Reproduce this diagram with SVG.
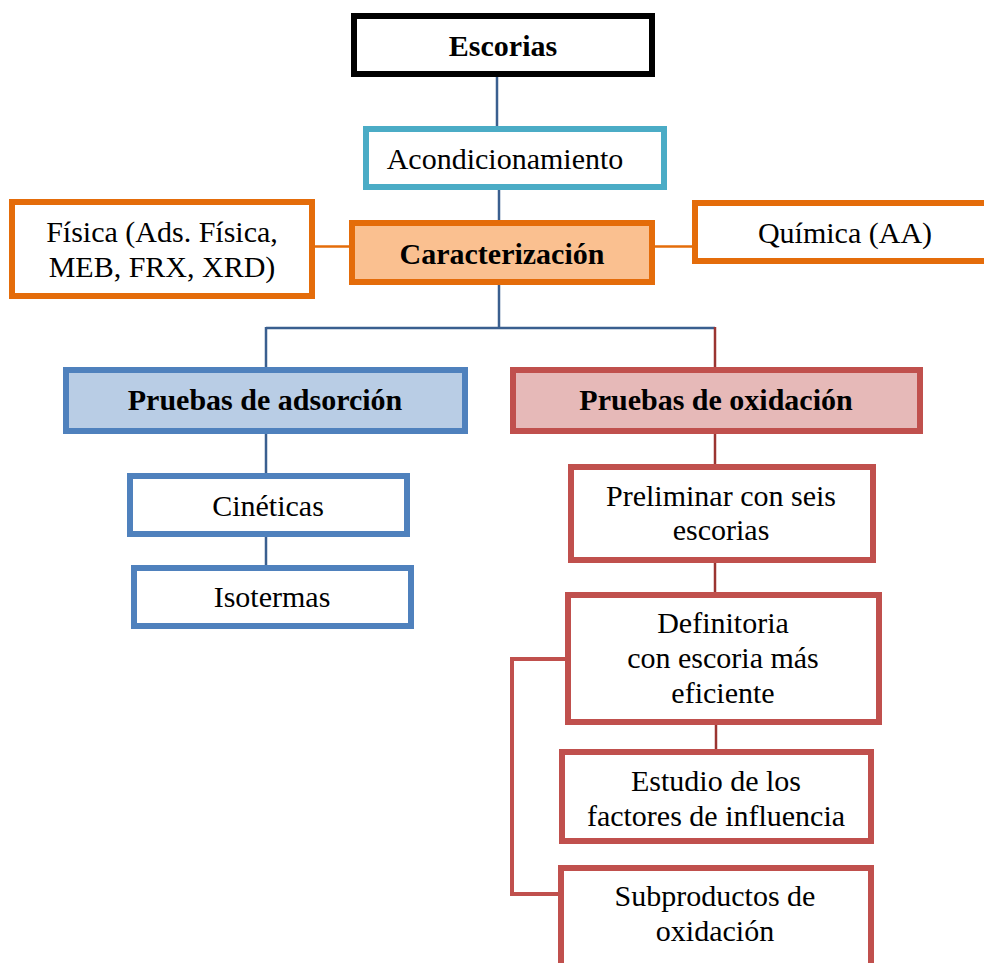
<svg xmlns="http://www.w3.org/2000/svg" width="984" height="963" viewBox="0 0 984 963">
<style>
text{font-family:"Liberation Serif","Times New Roman",serif;font-size:30px;fill:#000;text-anchor:middle}
.b{font-weight:bold}
.box{fill:#fff;stroke-width:6}
.k{stroke:#000}
.cy{stroke:#4BACC6}
.or{stroke:#E46C0A}
.bl{stroke:#4F81BD}
.rd{stroke:#C0504D}
.cb{stroke:#3A5F8F;stroke-width:2.5;fill:none}
.cr{stroke:#9B3431;stroke-width:2.5;fill:none}
.co{stroke:#E46C0A;stroke-width:2.5;fill:none}
.cbr{stroke:#C0504D;stroke-width:4;fill:none}
</style>
<g id="connectors">
<line class="cb" x1="497" y1="76" x2="497" y2="128"/>
<line class="cb" x1="499" y1="188" x2="499" y2="222"/>
<line class="cb" x1="499" y1="284" x2="499" y2="328"/>
<line class="cb" x1="266" y1="328" x2="715" y2="328"/>
<line class="cb" x1="266" y1="327" x2="266" y2="369"/>
<line class="cr" x1="715" y1="327" x2="715" y2="369"/>
<line class="co" x1="314" y1="246.5" x2="350" y2="246.5"/>
<line class="co" x1="654" y1="246.5" x2="693" y2="246.5"/>
<line class="cb" x1="266" y1="433" x2="266" y2="475"/>
<line class="cb" x1="266" y1="536" x2="266" y2="567"/>
<line class="cr" x1="715" y1="433" x2="715" y2="466"/>
<line class="cr" x1="715" y1="562" x2="715" y2="594"/>
<line class="cr" x1="716" y1="724" x2="716" y2="751"/>
<polyline class="cbr" points="566,659 512,659 512,894 559,894"/>
</g>
<g id="escorias">
<rect class="box k" x="354" y="16" width="298" height="58"/>
<text class="b" x="503" y="56">Escorias</text>
</g>
<g id="acondicionamiento">
<rect class="box cy" x="366" y="129" width="298" height="58"/>
<text x="505" y="169">Acondicionamiento</text>
</g>
<g id="caracterizacion">
<rect class="box or" x="352" y="223" width="300" height="59" style="fill:#FAC090"/>
<text class="b" x="502" y="264">Caracterización</text>
</g>
<g id="fisica">
<rect class="box or" x="12" y="202" width="300" height="94"/>
<text x="162" y="242">Física (Ads. Física,</text>
<text x="162" y="277">MEB, FRX, XRD)</text>
</g>
<g id="quimica">
<rect class="box or" x="695" y="203" width="300" height="58"/>
<text x="845" y="243">Química (AA)</text>
</g>
<g id="adsorcion">
<rect class="box bl" x="66" y="370" width="399" height="61" style="fill:#B9CDE5"/>
<text class="b" x="265" y="410">Pruebas de adsorción</text>
</g>
<g id="oxidacion">
<rect class="box rd" x="513" y="370" width="407" height="61" style="fill:#E6B9B8"/>
<text class="b" x="716" y="410">Pruebas de oxidación</text>
</g>
<g id="cineticas">
<rect class="box bl" x="130" y="476" width="277" height="58"/>
<text x="268" y="516">Cinéticas</text>
</g>
<g id="isotermas">
<rect class="box bl" x="134" y="568" width="277" height="58"/>
<text x="272" y="607">Isotermas</text>
</g>
<g id="preliminar">
<rect class="box rd" x="571" y="467" width="302" height="93"/>
<text x="721" y="506">Preliminar con seis</text>
<text x="721" y="540">escorias</text>
</g>
<g id="definitoria">
<rect class="box rd" x="568" y="595" width="311" height="127"/>
<text x="723" y="633">Definitoria</text>
<text x="723" y="668">con escoria más</text>
<text x="723" y="703">eficiente</text>
</g>
<g id="estudio">
<rect class="box rd" x="562" y="752" width="309" height="89"/>
<text x="716" y="791">Estudio de los</text>
<text x="716" y="826">factores de influencia</text>
</g>
<g id="subproductos">
<rect class="box rd" x="561" y="868" width="310" height="100"/>
<text x="715" y="906">Subproductos de</text>
<text x="715" y="941">oxidación</text>
</g>
</svg>
